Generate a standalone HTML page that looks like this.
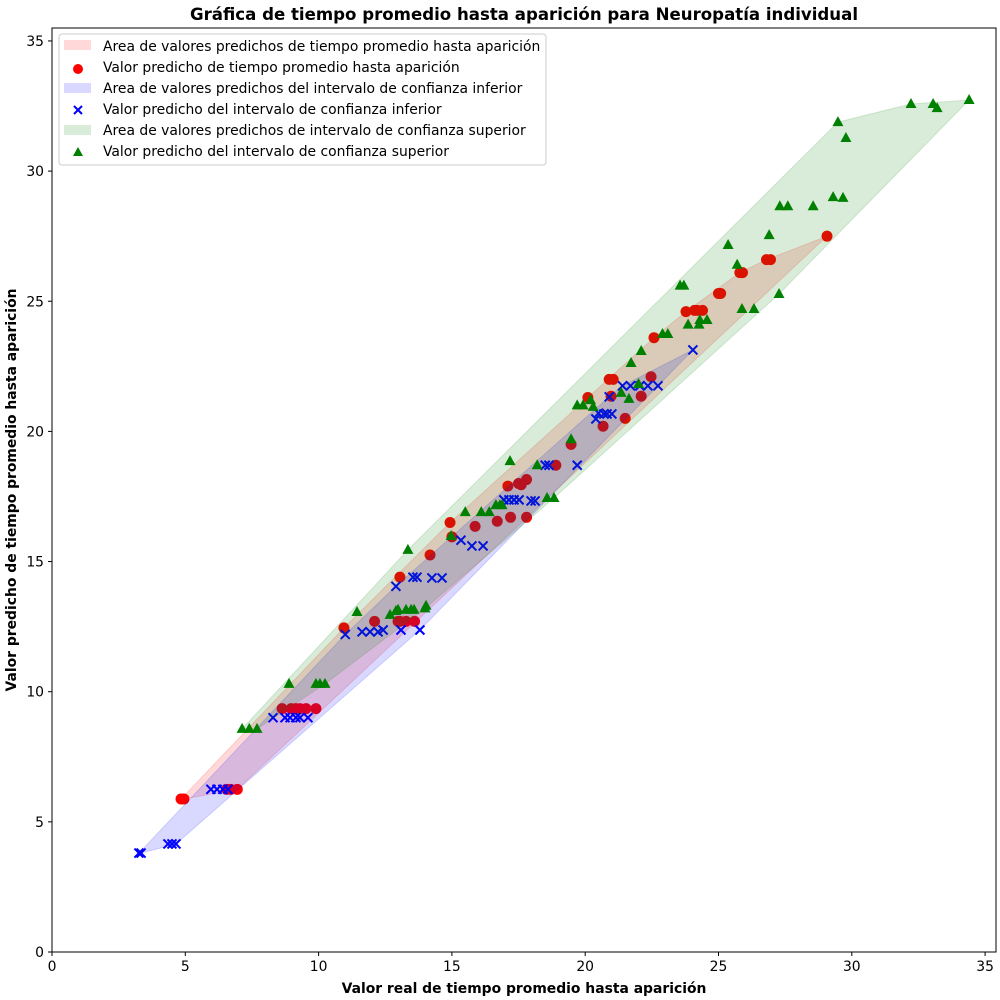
<!DOCTYPE html>
<html><head><meta charset="utf-8"><style>
html,body{margin:0;padding:0;background:#fff}
svg{display:block;font-family:"DejaVu Sans","Liberation Sans",sans-serif}
</style></head><body>
<svg id="chart" width="1000" height="1000" viewBox="0 0 1000 1000">
<rect width="1000" height="1000" fill="#fff"/>
<text x="524" y="20" text-anchor="middle" font-size="16.6" font-weight="bold">Gráfica de tiempo promedio hasta aparición para Neuropatía individual</text>
<g id="plot"></g>
<rect x="52" y="28" width="944" height="924" fill="none" stroke="#000" stroke-width="1"/>
<g id="axes"></g>
<text x="524" y="993" text-anchor="middle" font-size="13.9" font-weight="bold">Valor real de tiempo promedio hasta aparición</text>
<text transform="translate(16,490) rotate(-90)" text-anchor="middle" font-size="13.9" font-weight="bold">Valor predicho de tiempo promedio hasta aparición</text>
<g id="legend">
<rect x="59" y="34" width="487" height="131" fill="#fff" fill-opacity="0.8" stroke="#ccc" rx="3"/>
<rect x="64" y="40" width="27" height="10" fill="#ff0000" fill-opacity="0.15"/>
<text x="103" y="51" font-size="13.9">Area de valores predichos de tiempo promedio hasta aparición</text>
<circle cx="78" cy="69" r="5" fill="red"/>
<text x="103" y="72" font-size="13.9">Valor predicho de tiempo promedio hasta aparición</text>
<rect x="64" y="83" width="27" height="10" fill="#0000ff" fill-opacity="0.15"/>
<text x="103" y="93" font-size="13.9">Area de valores predichos del intervalo de confianza inferior</text>
<path d="M74,106 l8,8 M82,106 l-8,8" stroke="blue" stroke-width="2"/>
<text x="103" y="114" font-size="13.9">Valor predicho del intervalo de confianza inferior</text>
<rect x="64" y="125" width="27" height="10" fill="#008000" fill-opacity="0.15"/>
<text x="103" y="135" font-size="13.9">Area de valores predichos de intervalo de confianza superior</text>
<path d="M78,147 l5,9 h-10z" fill="green"/>
<text x="103" y="156" font-size="13.9">Valor predicho del intervalo de confianza superior</text>
</g>
</svg>
<script>
const xTicks=[0,5,10,15,20,25,30,35];
const yTicks=[0,5,10,15,20,25,30,35];
const redX=[4.84,4.95,6.55,6.7,6.95,8.63,8.97,9.15,9.3,9.53,9.9,10.95,12.1,12.98,13.05,13.28,13.6,13.05,14.18,14.93,15.0,15.87,16.7,17.1,17.2,17.5,17.6,17.8,17.8,18.9,19.47,20.1,20.67,20.9,21.05,20.97,21.5,22.1,22.47,22.58,23.78,24.1,24.2,24.4,25.0,25.08,25.8,25.9,26.8,26.95,29.07];
const redY=[5.88,5.88,6.25,6.25,6.25,9.35,9.35,9.35,9.35,9.35,9.35,12.45,12.7,12.7,12.7,12.7,12.7,14.4,15.25,16.5,15.95,16.35,16.55,17.9,16.7,18.0,17.95,18.15,16.7,18.7,19.5,21.3,20.2,22.0,22.0,21.35,20.5,21.35,22.1,23.6,24.6,24.65,24.65,24.65,25.3,25.3,26.1,26.1,26.6,26.6,27.5];
const blueX=[3.26,3.34,4.35,4.5,4.65,5.96,6.19,6.41,6.6,8.29,8.74,8.93,9.15,9.3,9.6,11.0,11.63,11.93,12.23,12.42,12.9,13.09,13.54,13.69,13.8,14.25,14.63,15.34,15.75,16.17,16.95,17.14,17.33,17.52,17.97,18.12,18.5,18.64,19.7,20.4,20.5,20.7,20.82,20.9,21.0,21.4,21.7,22.05,22.35,22.73,24.04];
const blueY=[3.8,3.8,4.15,4.15,4.15,6.25,6.25,6.25,6.25,9.0,9.0,9.0,9.0,9.0,9.0,12.2,12.3,12.3,12.3,12.37,14.05,12.37,14.4,14.4,12.37,14.37,14.37,15.82,15.6,15.6,17.37,17.37,17.37,17.37,17.33,17.33,18.7,18.7,18.7,20.48,20.7,20.67,20.67,21.33,20.67,21.75,21.75,21.75,21.75,21.75,23.13];
const greenX=[7.13,7.4,7.69,8.89,9.9,10.05,10.24,11.44,12.68,12.9,12.98,13.28,13.47,13.58,13.35,13.99,14.03,14.97,15.5,16.1,16.4,16.65,16.8,16.88,17.18,18.2,18.57,18.83,19.47,19.7,19.92,20.2,20.3,21.35,21.64,21.72,22.0,22.1,22.9,23.1,23.56,23.7,23.86,24.27,24.3,24.57,25.36,25.7,25.88,26.33,26.9,27.27,27.3,27.6,28.55,29.48,29.78,29.3,29.67,32.22,33.05,33.2,34.4];
const greenY=[8.57,8.57,8.57,10.3,10.3,10.3,10.3,13.06,12.95,13.1,13.15,13.15,13.15,13.15,15.45,13.2,13.3,15.98,16.9,16.9,16.9,17.17,17.17,17.17,18.86,18.7,17.44,17.44,19.7,21.0,21.0,21.2,20.94,21.48,21.25,22.63,21.82,23.09,23.74,23.74,25.6,25.6,24.1,24.1,24.28,24.28,27.16,26.4,24.7,24.7,27.54,25.28,28.65,28.65,28.65,31.88,31.27,29.0,28.97,32.58,32.58,32.42,32.73];

const NS='http://www.w3.org/2000/svg';
const X0=52,XS=26.66,Y0=952,YS=26.03;
function sx(v){return X0+v*XS;}
function sy(v){return Y0-v*YS;}
function mk(tag,attrs,parent){const e=document.createElementNS(NS,tag);for(const k in attrs)e.setAttribute(k,attrs[k]);parent.appendChild(e);return e;}
const axes=document.getElementById('axes');
xTicks.forEach(t=>{
  const l=mk('line',{x1:sx(t),x2:sx(t),y1:952,y2:956,stroke:'#000'},axes);
  
  
  const tx=mk('text',{x:sx(t),y:971,'text-anchor':'middle','font-size':'13.9'},axes);
  tx.textContent=t;
  
  
});
yTicks.forEach(t=>{
  const l=mk('line',{x1:48,x2:52,y1:sy(t),y2:sy(t),stroke:'#000'},axes);
  
  
  const tx=mk('text',{x:44,y:sy(t)+5,'text-anchor':'end','font-size':'13.9'},axes);
  tx.textContent=t;
  
  
});
function hull(xs,ys){
  const p=xs.map((x,i)=>[sx(x),sy(ys[i])]).sort((a,b)=>a[0]-b[0]||a[1]-b[1]);
  const cr=(o,a,b)=>(a[0]-o[0])*(b[1]-o[1])-(a[1]-o[1])*(b[0]-o[0]);
  const lo=[],up=[];
  for(const q of p){while(lo.length>=2&&cr(lo[lo.length-2],lo[lo.length-1],q)<=0)lo.pop();lo.push(q);}
  for(const q of p.slice().reverse()){while(up.length>=2&&cr(up[up.length-2],up[up.length-1],q)<=0)up.pop();up.push(q);}
  return lo.slice(0,-1).concat(up.slice(0,-1)).map(q=>q.join(',')).join(' ');
}
const plot=document.getElementById('plot');
function area(xs,ys,color,name){
  const pg=mk('polygon',{points:hull(xs,ys),fill:color,'fill-opacity':'0.15',stroke:color,'stroke-opacity':'0.15'},plot);
  
  
}
area(redX,redY,'#ff0000','red-area');
redX.forEach((x,i)=>{
  const c=mk('circle',{cx:sx(x),cy:sy(redY[i]),r:5.5,fill:'#ff0000'},plot);
  
  
});
area(blueX,blueY,'#0000ff','blue-area');
blueX.forEach((x,i)=>{
  const cx=sx(x),cy=sy(blueY[i]);
  const p=mk('path',{d:`M${cx-4.5},${cy-4.5}L${cx+4.5},${cy+4.5}M${cx+4.5},${cy-4.5}L${cx-4.5},${cy+4.5}`,stroke:'#0000ff','stroke-width':'2'},plot);
  
  
});
area(greenX,greenY,'#008000','green-area');
greenX.forEach((x,i)=>{
  const cx=sx(x),cy=sy(greenY[i]);
  const p=mk('path',{d:`M${cx},${cy-6}L${cx+5.5},${cy+4}L${cx-5.5},${cy+4}Z`,fill:'#008000'},plot);
  
  
});
</script>
</body></html>
